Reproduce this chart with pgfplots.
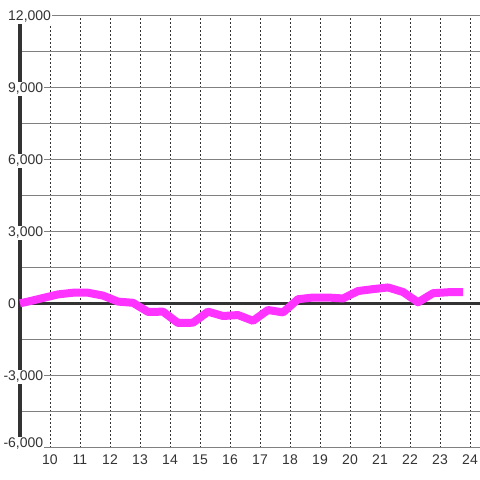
\documentclass[border=0pt]{standalone}
\usepackage{fontspec}
\setmainfont{Liberation Sans}
\usepackage{pgfplots}
\pgfplotsset{compat=1.18}
\definecolor{line}{HTML}{FF33FF}
\definecolor{ink}{HTML}{333333}
\definecolor{gridgray}{HTML}{808080}
\begin{document}
\begin{tikzpicture}
\useasboundingbox (-20pt,-32pt) rectangle (460pt,448pt);
\begin{axis}[
    scale only axis,
    width=460pt, height=432pt,
    xmin=9, xmax=24.333,
    ymin=-6000, ymax=12000,
    axis x line*=bottom,
    axis y line*=left,
    x axis line style={draw=none},
    y axis line style={ink, line width=4pt},
    xtick={10,...,24},
    ytick={-6000,-3000,0,3000,6000,9000,12000},
    yticklabels={{\raisebox{5pt}{\llap{-}6,000}},{\llap{-}3,000},{0},{3,000},{6,000},{9,000},{12,000}},
    scaled y ticks=false,
    minor y tick num=1,
    major tick length=0pt, minor tick length=0pt,
    xmajorgrids, ymajorgrids, yminorgrids,
    x grid style={ink, line width=1pt, dash pattern=on 2pt off 2pt},
    y grid style={gridgray, line width=1pt},
    minor y grid style={gridgray, line width=1pt},
    tick label style={font=\fontsize{14}{16}\selectfont, text=ink},
    yticklabel style={anchor=base west, xshift=-13pt, yshift=-5pt,
        fill=white, inner sep=1pt},
    xticklabel style={yshift=-3pt},
    /pgf/number format/assume math mode=true,
    clip=false,
]
% zero line
\addplot[ink, line width=3pt, forget plot] coordinates {(9,0) (24.333,0)};
\addplot[line, line width=8pt, line join=round] coordinates {
(9.000,30) (9.267,100) (9.767,250) (10.267,400) (10.767,470) (11.267,470)
(11.767,350) (12.267,100) (12.767,50) (13.267,-330) (13.767,-320)
(14.267,-790) (14.767,-780) (15.267,-320) (15.767,-500) (16.267,-460)
(16.767,-700) (17.267,-250) (17.767,-350) (18.267,200) (18.767,270)
(19.267,270) (19.767,230) (20.267,540) (20.767,620) (21.267,690)
(21.767,500) (22.267,70) (22.767,450) (23.267,490) (23.767,490)
};
\end{axis}
\end{tikzpicture}
\end{document}
